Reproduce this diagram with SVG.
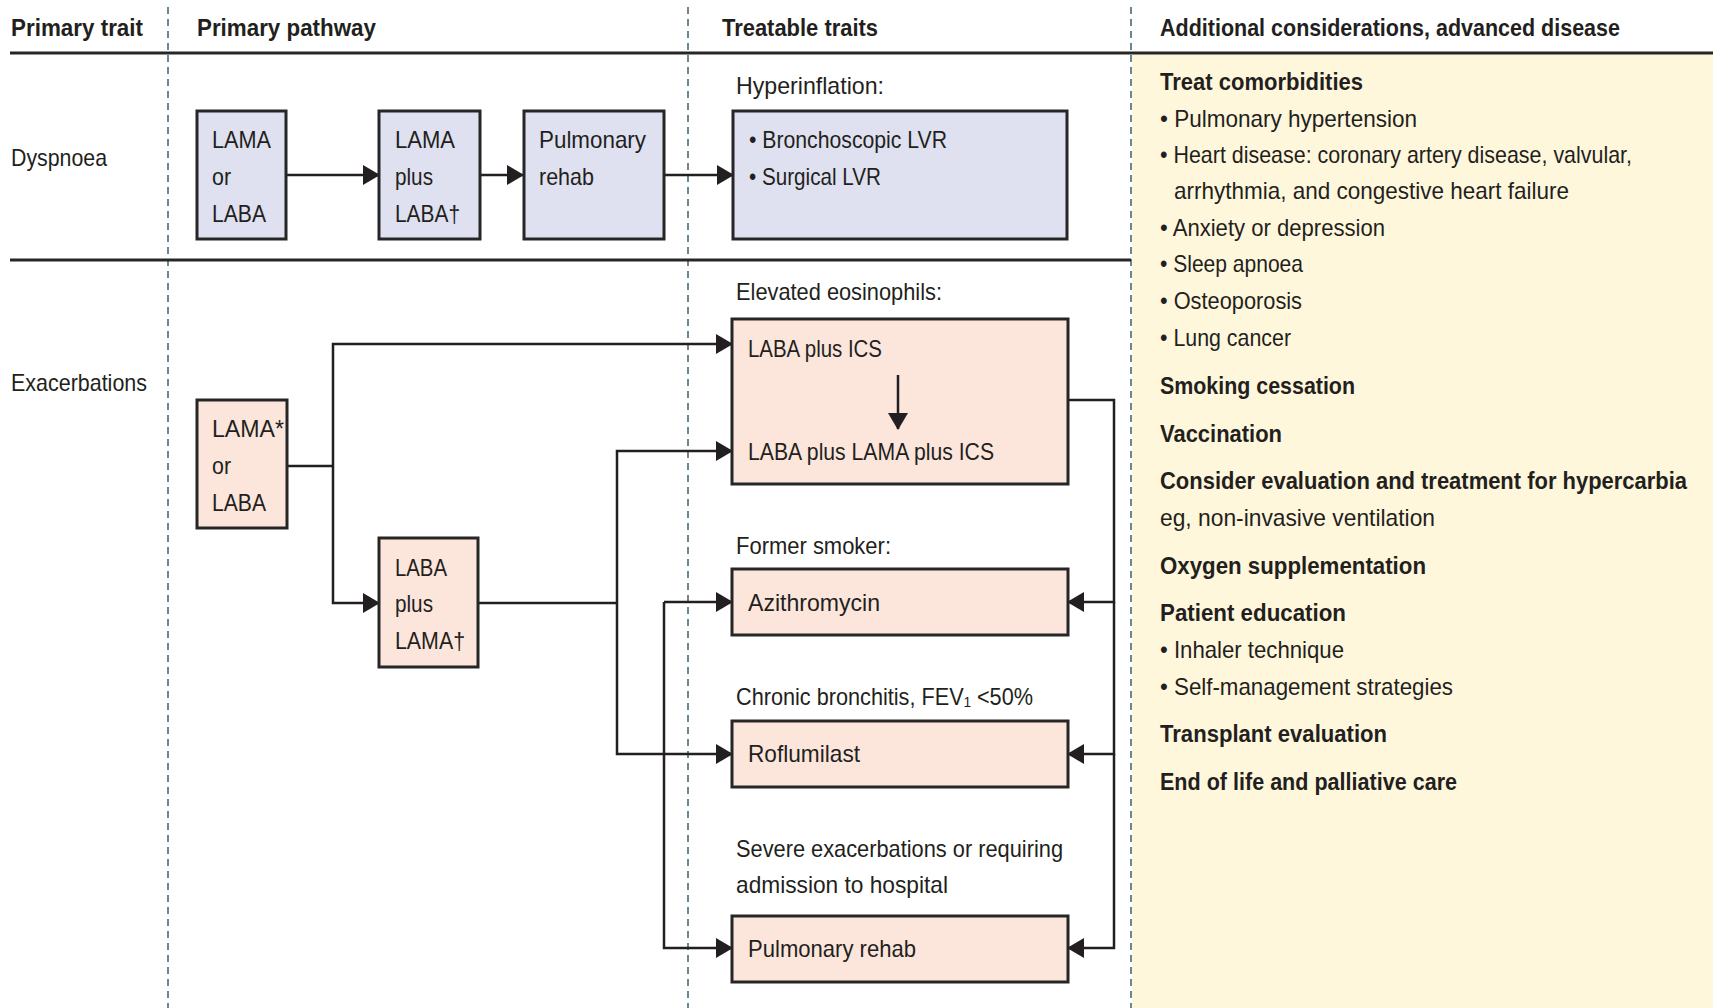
<svg xmlns="http://www.w3.org/2000/svg" width="1713" height="1008" viewBox="0 0 1713 1008">
<style>
text{font-family:"Liberation Sans",Arial,sans-serif;font-size:24px;fill:#231f20}
.b{font-weight:bold}
.blue{fill:#dfe1f0;stroke:#262626;stroke-width:3}
.pink{fill:#fce6dc;stroke:#262626;stroke-width:3}
.dash{stroke:#4a6a78;stroke-width:1.6;stroke-dasharray:7 5;fill:none}
.rule{stroke:#262626;stroke-width:3;fill:none}
.c{stroke:#231f20;stroke-width:2.5;fill:none}
.a{marker-end:url(#ah)}
</style>
<defs>
<marker id="ah" markerUnits="userSpaceOnUse" markerWidth="17" markerHeight="20" viewBox="0 0 17 20" refX="16" refY="10" orient="auto"><path d="M0,0 L17,10 L0,20 Z" fill="#231f20"/></marker>
</defs>
<rect width="1713" height="1008" fill="#ffffff"/>
<rect x="1132" y="54" width="581" height="954" fill="#fff7dc"/>

<g id="grid">
<line class="dash" x1="168" y1="7" x2="168" y2="1008"/>
<line class="dash" x1="688" y1="7" x2="688" y2="1008"/>
<line class="dash" x1="1131" y1="7" x2="1131" y2="1008"/>
<line class="rule" x1="10" y1="53" x2="1713" y2="53"/>
<line class="rule" x1="10" y1="260" x2="1131" y2="260"/>
</g>

<g id="headers">
<text class="b" x="11" y="36" textLength="132" lengthAdjust="spacingAndGlyphs">Primary trait</text>
<text class="b" x="197" y="36" textLength="179" lengthAdjust="spacingAndGlyphs">Primary pathway</text>
<text class="b" x="722" y="36" textLength="156" lengthAdjust="spacingAndGlyphs">Treatable traits</text>
<text class="b" x="1160" y="36" textLength="460" lengthAdjust="spacingAndGlyphs">Additional considerations, advanced disease</text>
</g>

<g id="row-labels">
<text x="11" y="166" textLength="96" lengthAdjust="spacingAndGlyphs">Dyspnoea</text>
<text x="11" y="391" textLength="136" lengthAdjust="spacingAndGlyphs">Exacerbations</text>
</g>

<g id="connectors">
<path class="c a" d="M286,175 H379"/>
<path class="c a" d="M480,175 H523"/>
<path class="c a" d="M664,175 H733"/>
<path class="c" d="M287,466 H333"/>
<path class="c a" d="M333,466 V344 H732"/>
<path class="c a" d="M333,466 V603 H379"/>
<path class="c" d="M478,603 H617"/>
<path class="c a" d="M617,603 V451 H732"/>
<path class="c a" d="M617,603 V754 H732"/>
<path class="c a" d="M664,602 H732"/>
<path class="c a" d="M664,602 V948 H732"/>
<path class="c a" d="M1068,400 H1114 V602 H1068"/>
<path class="c a" d="M1114,602 V754 H1068"/>
<path class="c a" d="M1114,754 V948 H1068"/>
</g>

<g id="n-lama-or-laba">
<rect class="blue" x="197" y="111" width="89" height="128"/>
<text x="212" y="148" textLength="59" lengthAdjust="spacingAndGlyphs">LAMA</text>
<text x="212" y="185" textLength="19" lengthAdjust="spacingAndGlyphs">or</text>
<text x="212" y="222" textLength="54" lengthAdjust="spacingAndGlyphs">LABA</text>
</g>
<g id="n-lama-plus-laba">
<rect class="blue" x="379" y="111" width="101" height="128"/>
<text x="395" y="148" textLength="60" lengthAdjust="spacingAndGlyphs">LAMA</text>
<text x="395" y="185" textLength="38" lengthAdjust="spacingAndGlyphs">plus</text>
<text x="395" y="222" textLength="65" lengthAdjust="spacingAndGlyphs">LABA†</text>
</g>
<g id="n-pulm-rehab-1">
<rect class="blue" x="524" y="111" width="140" height="128"/>
<text x="539" y="148" textLength="107" lengthAdjust="spacingAndGlyphs">Pulmonary</text>
<text x="539" y="185" textLength="55" lengthAdjust="spacingAndGlyphs">rehab</text>
</g>
<g id="n-hyperinflation">
<text x="736" y="94" textLength="148" lengthAdjust="spacingAndGlyphs">Hyperinflation:</text>
<rect class="blue" x="733" y="111" width="334" height="128"/>
<text x="749" y="148" textLength="198" lengthAdjust="spacingAndGlyphs">• Bronchoscopic LVR</text>
<text x="749" y="185" textLength="132" lengthAdjust="spacingAndGlyphs">• Surgical LVR</text>
</g>

<g id="n-lama-star">
<rect class="pink" x="197" y="400" width="90" height="128"/>
<text x="212" y="437" textLength="72" lengthAdjust="spacingAndGlyphs">LAMA*</text>
<text x="212" y="474" textLength="19" lengthAdjust="spacingAndGlyphs">or</text>
<text x="212" y="511" textLength="54" lengthAdjust="spacingAndGlyphs">LABA</text>
</g>
<g id="n-laba-plus-lama">
<rect class="pink" x="379" y="538" width="99" height="129"/>
<text x="395" y="576" textLength="52" lengthAdjust="spacingAndGlyphs">LABA</text>
<text x="395" y="612" textLength="38" lengthAdjust="spacingAndGlyphs">plus</text>
<text x="395" y="649" textLength="70" lengthAdjust="spacingAndGlyphs">LAMA†</text>
</g>
<g id="n-eosinophils">
<text x="736" y="300" textLength="206" lengthAdjust="spacingAndGlyphs">Elevated eosinophils:</text>
<rect class="pink" x="732" y="319" width="336" height="165"/>
<text x="748" y="357" textLength="134" lengthAdjust="spacingAndGlyphs">LABA plus ICS</text>
<path class="c a" d="M898,375 V429"/>
<text x="748" y="460" textLength="246" lengthAdjust="spacingAndGlyphs">LABA plus LAMA plus ICS</text>
</g>
<g id="n-azithromycin">
<text x="736" y="554" textLength="155" lengthAdjust="spacingAndGlyphs">Former smoker:</text>
<rect class="pink" x="732" y="569" width="336" height="66"/>
<text x="748" y="611" textLength="132" lengthAdjust="spacingAndGlyphs">Azithromycin</text>
</g>
<g id="n-roflumilast">
<text x="736" y="705" font-size="23" textLength="297" lengthAdjust="spacingAndGlyphs">Chronic bronchitis, FEV₁ &lt;50%</text>
<rect class="pink" x="732" y="721" width="336" height="66"/>
<text x="748" y="762" textLength="112" lengthAdjust="spacingAndGlyphs">Roflumilast</text>
</g>
<g id="n-pulm-rehab-2">
<text x="736" y="857" textLength="327" lengthAdjust="spacingAndGlyphs">Severe exacerbations or requiring</text>
<text x="736" y="893" textLength="212" lengthAdjust="spacingAndGlyphs">admission to hospital</text>
<rect class="pink" x="732" y="916" width="336" height="66"/>
<text x="748" y="957" textLength="168" lengthAdjust="spacingAndGlyphs">Pulmonary rehab</text>
</g>

<g id="n-considerations">
<text class="b" x="1160" y="90" textLength="203" lengthAdjust="spacingAndGlyphs">Treat comorbidities</text>
<text x="1160" y="127" textLength="257" lengthAdjust="spacingAndGlyphs">• Pulmonary hypertension</text>
<text x="1160" y="163" textLength="472" lengthAdjust="spacingAndGlyphs">• Heart disease: coronary artery disease, valvular,</text>
<text x="1174" y="199" textLength="395" lengthAdjust="spacingAndGlyphs">arrhythmia, and congestive heart failure</text>
<text x="1160" y="236" textLength="225" lengthAdjust="spacingAndGlyphs">• Anxiety or depression</text>
<text x="1160" y="272" textLength="143" lengthAdjust="spacingAndGlyphs">• Sleep apnoea</text>
<text x="1160" y="309" textLength="142" lengthAdjust="spacingAndGlyphs">• Osteoporosis</text>
<text x="1160" y="346" textLength="131" lengthAdjust="spacingAndGlyphs">• Lung cancer</text>
<text class="b" x="1160" y="394" textLength="195" lengthAdjust="spacingAndGlyphs">Smoking cessation</text>
<text class="b" x="1160" y="442" textLength="122" lengthAdjust="spacingAndGlyphs">Vaccination</text>
<text class="b" x="1160" y="489" font-size="21" textLength="527" lengthAdjust="spacingAndGlyphs">Consider evaluation and treatment for hypercarbia</text>
<text x="1160" y="526" textLength="275" lengthAdjust="spacingAndGlyphs">eg, non-invasive ventilation</text>
<text class="b" x="1160" y="574" textLength="266" lengthAdjust="spacingAndGlyphs">Oxygen supplementation</text>
<text class="b" x="1160" y="621" textLength="186" lengthAdjust="spacingAndGlyphs">Patient education</text>
<text x="1160" y="658" textLength="184" lengthAdjust="spacingAndGlyphs">• Inhaler technique</text>
<text x="1160" y="695" textLength="293" lengthAdjust="spacingAndGlyphs">• Self-management strategies</text>
<text class="b" x="1160" y="742" textLength="227" lengthAdjust="spacingAndGlyphs">Transplant evaluation</text>
<text class="b" x="1160" y="790" textLength="297" lengthAdjust="spacingAndGlyphs">End of life and palliative care</text>
</g>
</svg>
